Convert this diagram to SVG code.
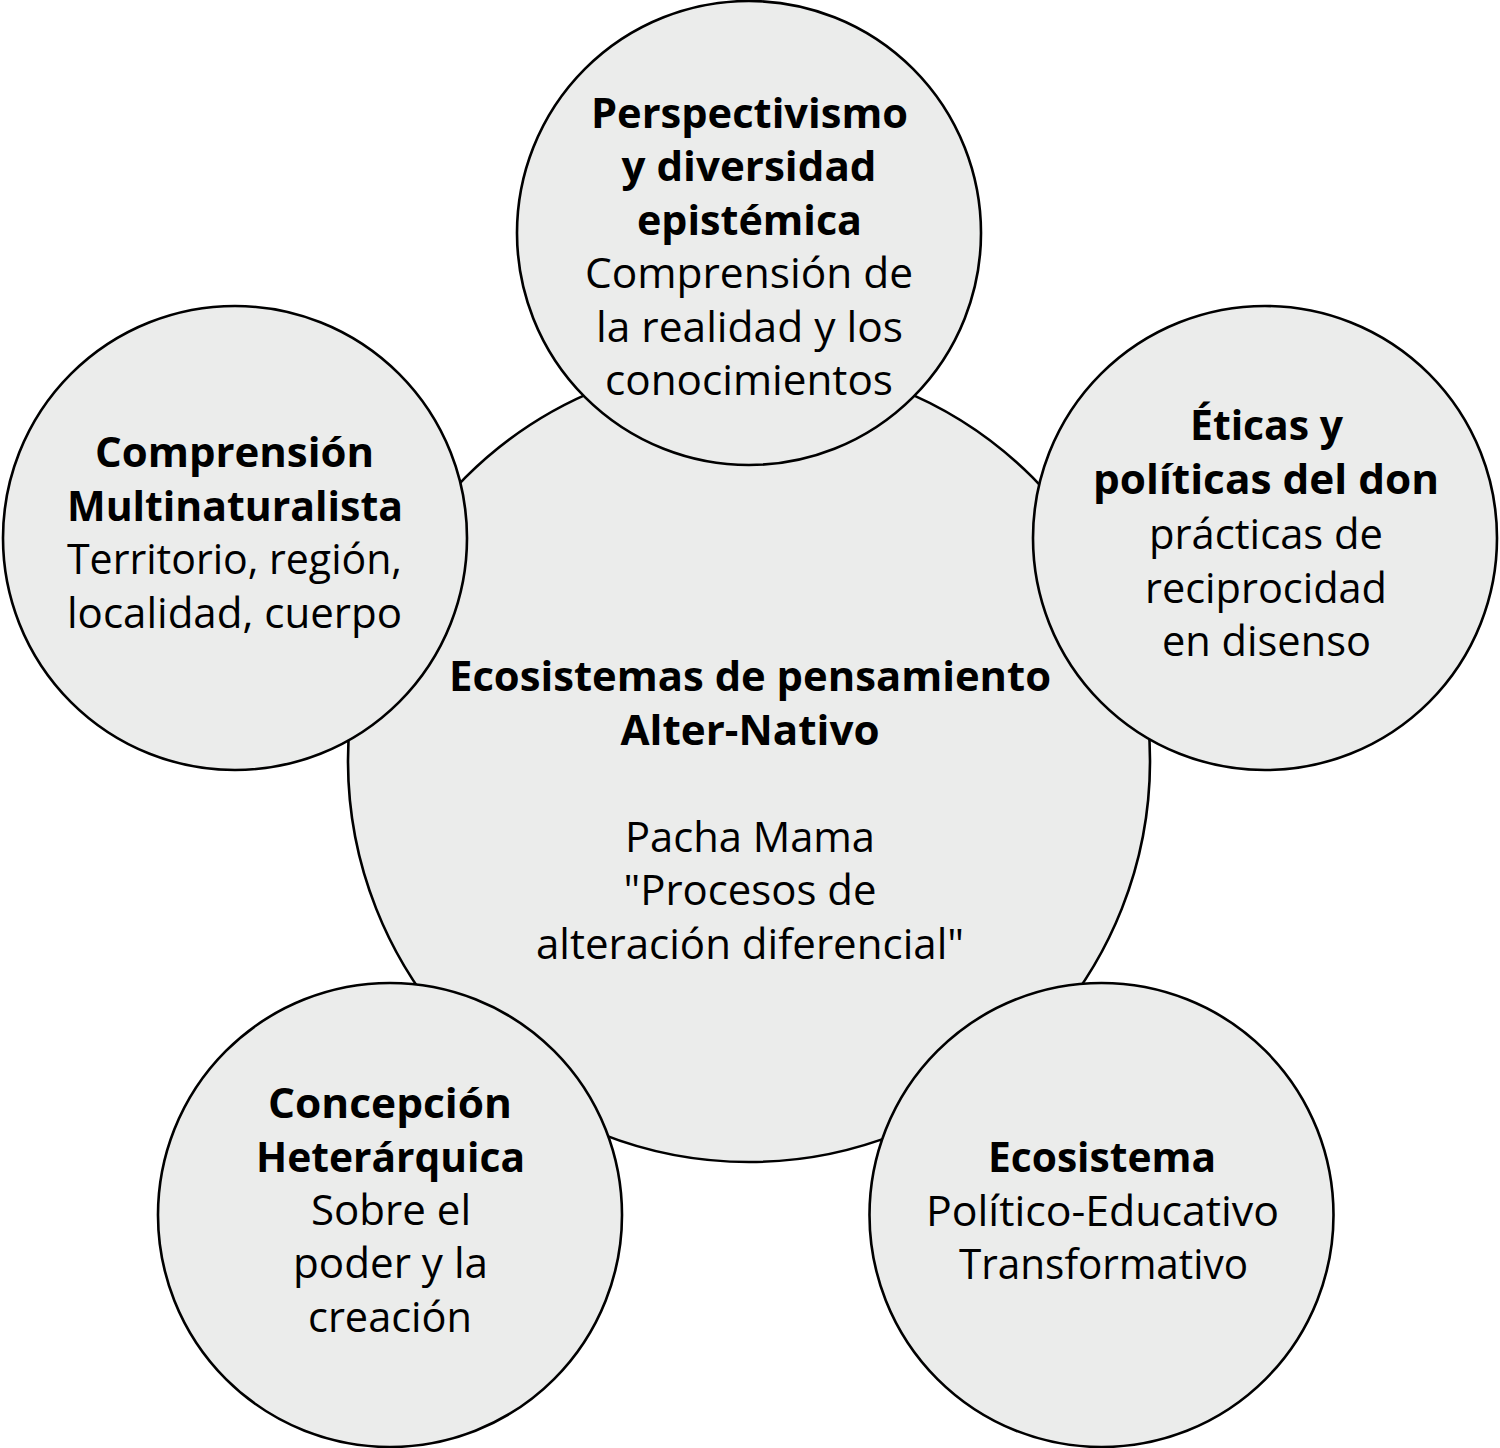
<svg xmlns="http://www.w3.org/2000/svg" width="1500" height="1448" viewBox="0 0 1500 1448">
<style>
.c{fill:#ebeceb;stroke:#000;stroke-width:2.6}
text{font-family:"Open Sans","Noto Sans","Liberation Sans",sans-serif;font-size:42px;fill:#000;text-anchor:middle}
.b{font-weight:bold}
</style>
<rect x="0" y="0" width="1500" height="1448" fill="#fff"/>
<g id="connectors"></g>
<g id="center">
<circle class="c" cx="749" cy="761" r="401"/>
<text class="b" x="750" y="691" textLength="602" lengthAdjust="spacingAndGlyphs">Ecosistemas de pensamiento</text>
<text class="b" x="750" y="745" textLength="259" lengthAdjust="spacingAndGlyphs">Alter-Nativo</text>
<text x="750" y="852" textLength="250" lengthAdjust="spacingAndGlyphs">Pacha Mama</text>
<text x="750" y="905" textLength="253" lengthAdjust="spacingAndGlyphs">"Procesos de</text>
<text x="750" y="959" textLength="428" lengthAdjust="spacingAndGlyphs">alteración diferencial"</text>
</g>
<g id="top">
<circle class="c" cx="749" cy="233" r="232"/>
<text class="b" x="749.5" y="128" textLength="317" lengthAdjust="spacingAndGlyphs">Perspectivismo</text>
<text class="b" x="749" y="181" textLength="255" lengthAdjust="spacingAndGlyphs">y diversidad</text>
<text class="b" x="749.5" y="235" textLength="225" lengthAdjust="spacingAndGlyphs">epistémica</text>
<text x="749" y="288" textLength="328" lengthAdjust="spacingAndGlyphs">Comprensión de</text>
<text x="749.5" y="342" textLength="307" lengthAdjust="spacingAndGlyphs">la realidad y los</text>
<text x="749" y="395" textLength="288" lengthAdjust="spacingAndGlyphs">conocimientos</text>
</g>
<g id="left">
<circle class="c" cx="235" cy="538" r="232"/>
<text class="b" x="234.5" y="467" textLength="279" lengthAdjust="spacingAndGlyphs">Comprensión</text>
<text class="b" x="235" y="521" textLength="336" lengthAdjust="spacingAndGlyphs">Multinaturalista</text>
<text x="234.5" y="574" textLength="335" lengthAdjust="spacingAndGlyphs">Territorio, región,</text>
<text x="234.5" y="628" textLength="335" lengthAdjust="spacingAndGlyphs">localidad, cuerpo</text>
</g>
<g id="right">
<circle class="c" cx="1265" cy="538" r="232"/>
<text class="b" x="1266.5" y="440" textLength="153" lengthAdjust="spacingAndGlyphs">Éticas y</text>
<text class="b" x="1266" y="494" textLength="346" lengthAdjust="spacingAndGlyphs">políticas del don</text>
<text x="1266" y="549" textLength="234" lengthAdjust="spacingAndGlyphs">prácticas de</text>
<text x="1266" y="603" textLength="242" lengthAdjust="spacingAndGlyphs">reciprocidad</text>
<text x="1266.5" y="656" textLength="209" lengthAdjust="spacingAndGlyphs">en disenso</text>
</g>
<g id="bottom-left">
<circle class="c" cx="390" cy="1215" r="232"/>
<text class="b" x="390" y="1118" textLength="244" lengthAdjust="spacingAndGlyphs">Concepción</text>
<text class="b" x="390.5" y="1172" textLength="269" lengthAdjust="spacingAndGlyphs">Heterárquica</text>
<text x="391" y="1225" textLength="160" lengthAdjust="spacingAndGlyphs">Sobre el</text>
<text x="390.5" y="1278" textLength="195" lengthAdjust="spacingAndGlyphs">poder y la</text>
<text x="390" y="1332" textLength="164" lengthAdjust="spacingAndGlyphs">creación</text>
</g>
<g id="bottom-right">
<circle class="c" cx="1101.5" cy="1215" r="232"/>
<text class="b" x="1102" y="1172" textLength="228" lengthAdjust="spacingAndGlyphs">Ecosistema</text>
<text x="1102.5" y="1226" textLength="353" lengthAdjust="spacingAndGlyphs">Político-Educativo</text>
<text x="1103.5" y="1279" textLength="289" lengthAdjust="spacingAndGlyphs">Transformativo</text>
</g>
</svg>
